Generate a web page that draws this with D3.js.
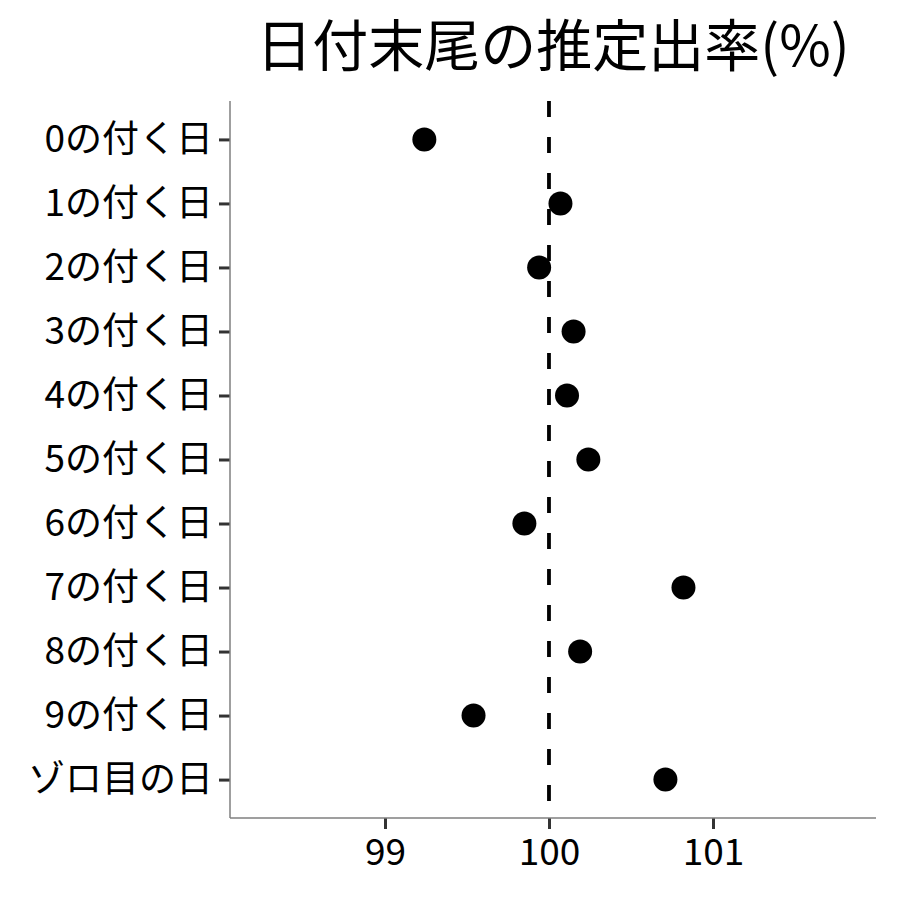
<!DOCTYPE html>
<html>
<head>
<meta charset="utf-8">
<script src="https://cdn.jsdelivr.net/npm/d3@7"></script>
<style>
  body { margin: 0; background: #fff; }
  text { font-family: 'Noto Sans CJK JP', 'Noto Sans', sans-serif; }
</style>
</head>
<body>
<div id="chart"></div>
<script>
// data
var categories = ['0の付く日', '1の付く日', '2の付く日', '3の付く日', '4の付く日',
  '5の付く日', '6の付く日', '7の付く日', '8の付く日', '9の付く日', 'ゾロ目の日']
var values = [99.24, 100.07, 99.94, 100.15, 100.11, 100.24, 99.85, 100.82, 100.19, 99.54, 100.71]
var xTicks = [99, 100, 101]
var refValue = 100
var title = '日付末尾の推定出率(%)'

var width = 900
var height = 900
var margin = {left: 230, right: 24, top: 101, bottom: 82}
var chartWidth = width - margin.left - margin.right
var chartHeight = height - margin.top - margin.bottom

var data = categories.map(function (c, i) { return {cat: c, value: values[i]} })

var svg = d3.select('#chart')
  .append('svg')
  .attr('width', width)
  .attr('height', height)

var chart = svg.append('g')
  .attr('transform', 'translate(' + margin.left + ',' + margin.top + ')')

var xScale = d3.scaleLinear()
  .domain([98.055, 101.994])
  .range([0, chartWidth])

var yScale = d3.scalePoint()
  .domain(categories)
  .range([0, chartHeight])
  .padding(0.6)

var xAxis = d3.axisBottom(xScale)
  .tickValues(xTicks)
  .tickSize(11)
  .tickPadding(8)
  .tickFormat(d3.format('d'))

var yAxis = d3.axisLeft(yScale)
  .tickSize(11)
  .tickPadding(6)

var xAxisElement = chart.append('g')
  .attr('class', 'xaxis')
  .attr('transform', 'translate(0,' + chartHeight + ')')
  .call(xAxis)

var yAxisElement = chart.append('g')
  .attr('class', 'yaxis')
  .call(yAxis)

// ggplot-ish axis styling
chart.selectAll('.domain').remove()
chart.append('line')
  .attr('x1', 0).attr('x2', 0)
  .attr('y1', 0).attr('y2', chartHeight)
  .attr('stroke', '#7f7f7f').attr('stroke-width', 1.5)
chart.append('line')
  .attr('x1', 0).attr('x2', chartWidth)
  .attr('y1', chartHeight).attr('y2', chartHeight)
  .attr('stroke', '#7f7f7f').attr('stroke-width', 1.5)

chart.selectAll('.tick line')
  .attr('stroke', '#333333')
  .attr('stroke-width', 3)
chart.selectAll('.tick text')
  .attr('fill', '#000')
  .style('font-size', '37px')
xAxisElement.selectAll('.tick text').attr('dy', '0.75em')

// reference line
chart.append('line')
  .attr('x1', xScale(refValue)).attr('x2', xScale(refValue))
  .attr('y1', 0).attr('y2', chartHeight)
  .attr('stroke', '#000')
  .attr('stroke-width', 3.8)
  .attr('stroke-dasharray', '16,20')

chart.selectAll('.pt')
  .data(data)
  .enter()
  .append('circle')
  .attr('class', 'pt')
  .attr('cx', function (d) { return xScale(d.value) })
  .attr('cy', function (d) { return yScale(d.cat) })
  .attr('r', 12)
  .attr('fill', '#000')

svg.append('text')
  .attr('x', margin.left + chartWidth / 2)
  .attr('y', 66)
  .attr('text-anchor', 'middle')
  .style('font-size', '56px')
  .text(title)
</script>
</body>
</html>
